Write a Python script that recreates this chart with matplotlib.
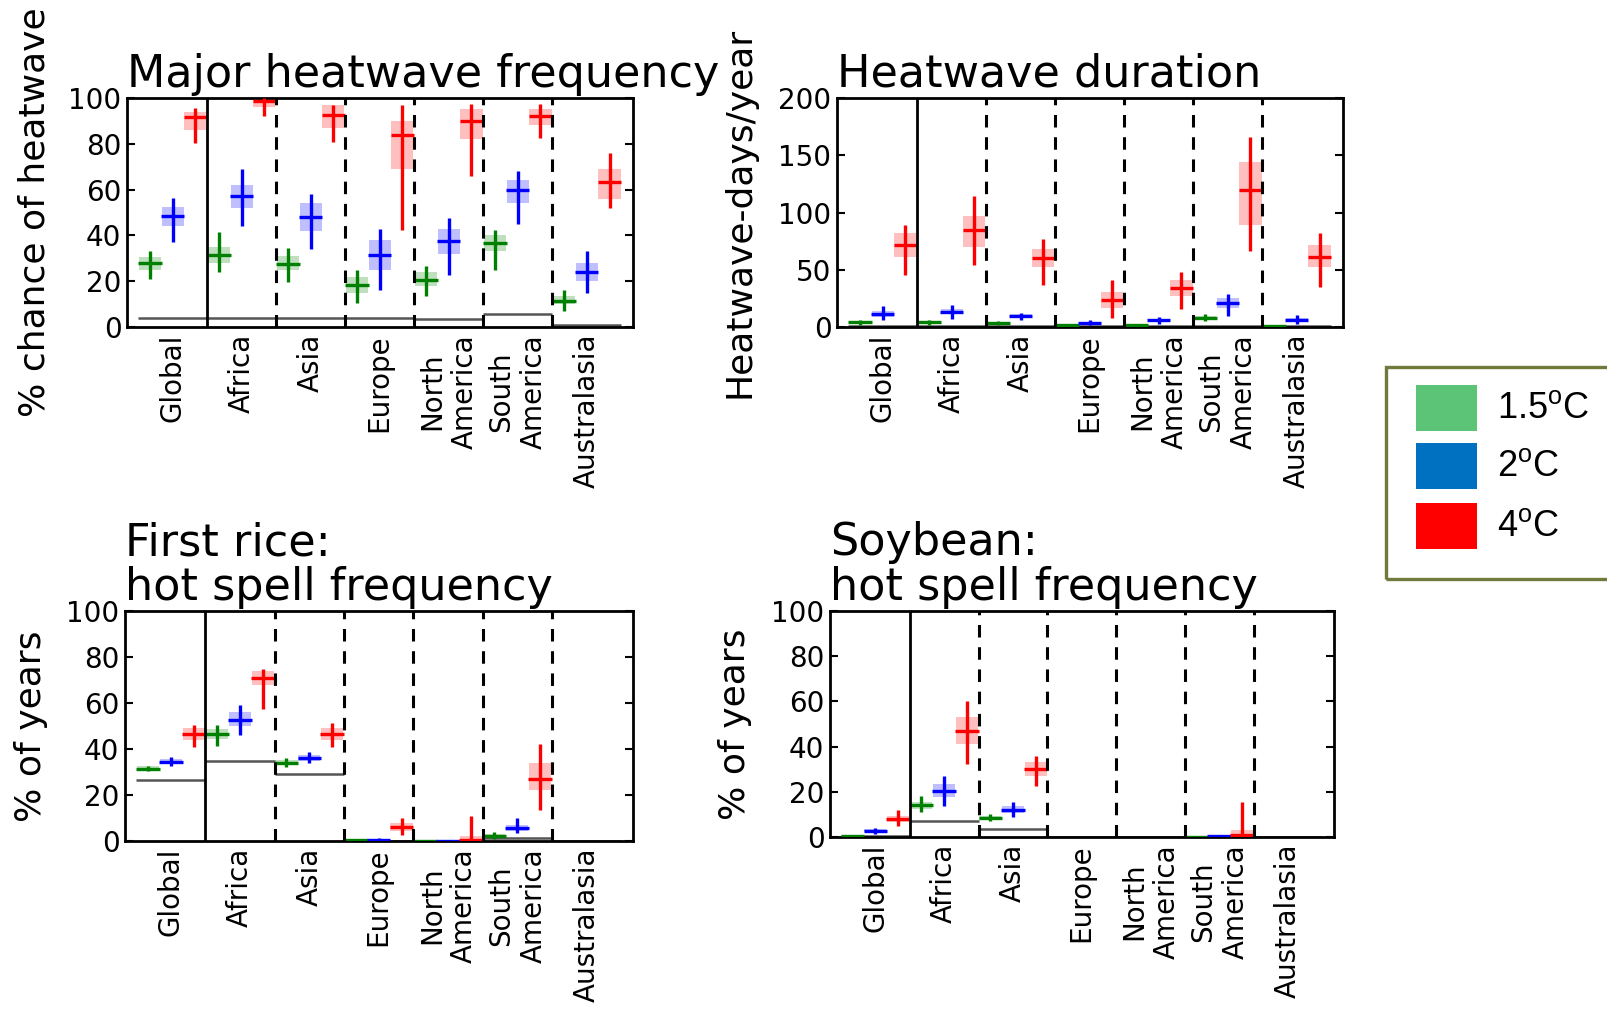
import numpy as np
import matplotlib.pyplot as plt
from matplotlib.patches import Rectangle

plt.rcParams['font.family'] = ['DejaVu Sans']
plt.rcParams['mathtext.fontset'] = 'custom'
plt.rcParams['mathtext.rm'] = 'Liberation Sans'
plt.rcParams['lines.scale_dashes'] = False

nan = np.nan
regions = ['Global', 'Africa', 'Asia', 'Europe', 'North\nAmerica', 'South\nAmerica', 'Australasia']
scenarios = ['1.5$^{\\rm o}$C', '2$^{\\rm o}$C', '4$^{\\rm o}$C']
mark_colors = ['g', 'b', 'r']
legend_colors = ['#5bc477', '#0070c0', '#ff0000']

# major heatwave frequency (% chance of heatwave), rows = 1.5C, 2C, 4C
freq_med = [[28, 31.5, 27.5, 18.5, 20.5, 36.5, 11.5],
            [48.5, 57, 48, 31.5, 37.5, 60, 24],
            [91.5, 98.5, 92.5, 84, 90, 92, 63.5]]
freq_lo = [[21, 24, 19.5, 10.5, 13.5, 25, 7],
           [37, 44, 34, 16, 22.5, 45, 15],
           [80.5, 92, 81, 42.5, 66, 82.5, 52]]
freq_hi = [[33, 41.5, 34.5, 25, 26.5, 42.5, 16],
           [56.5, 69, 58, 43, 47.5, 68, 33],
           [95.5, 100, 97, 97, 97.5, 97.5, 76]]
freq_q1 = [[25, 28, 25, 15, 18, 33, 10],
           [44, 52, 42, 25, 32, 54, 20],
           [86, 96, 87, 69, 82, 88, 56]]
freq_q3 = [[30.5, 35, 31, 22, 24, 40, 13.5],
           [52.5, 62, 54, 38, 43, 64, 28],
           [94, 100, 97, 90, 95, 95, 69]]
freq_base = [4, 4, 4, 4, 3.5, 5.5, 1]

# heatwave duration (days/year)
dur_med = [[4, 4, 3.5, 1.5, 1.5, 8, 1],
           [11.5, 13.5, 9.5, 3.5, 6, 21, 6],
           [72, 85, 60, 24, 34, 120, 61]]
dur_lo = [[2, 2, 2, 0.5, 0.5, 5, 0.3],
          [6, 7, 6, 1.5, 3, 10, 3],
          [45, 54, 37, 7.5, 16, 66, 35]]
dur_hi = [[6, 6, 5, 3, 3, 11, 2],
          [18, 19, 12.5, 6, 9, 29, 10.5],
          [89, 114, 77, 41, 48, 166, 82]]
dur_q1 = [[3, 3, 2.5, 1, 1, 6.5, 0.5],
          [9, 11, 8, 2.5, 5, 17, 4.5],
          [61, 70, 52, 17, 27, 89, 52]]
dur_q3 = [[5, 5, 4.5, 2, 2, 9.5, 1.5],
          [14, 16, 11, 4.5, 7, 25, 7.5],
          [82, 97, 68, 31, 41, 144, 72]]
dur_base = [1, 1, 1, 0.5, 0.5, 1, 0.5]

# first rice: hot spell frequency (% of years)
rice_med = [[31.5, 46.5, 34, 0.3, 0, 2.2, nan],
            [34.5, 52.5, 36, 0.5, 0, 5.5, nan],
            [46.5, 71, 46.5, 6, 0.5, 27, nan]]
rice_lo = [[30.5, 41.5, 32, 0, 0, 1, nan],
           [32.5, 46, 34, 0, 0, 3.3, nan],
           [41, 57.5, 41, 2.5, 0, 13.5, nan]]
rice_hi = [[32.5, 50.5, 36, 0.8, 0, 4, nan],
           [36.5, 59, 38.5, 1.2, 0, 10, nan],
           [50.5, 75, 51.5, 10, 11, 42, nan]]
rice_q1 = [[31, 44.5, 33, 0, 0, 1.5, nan],
           [33.5, 50, 35, 0.2, 0, 4.5, nan],
           [44, 68, 44, 4.5, 0, 22, nan]]
rice_q3 = [[32.5, 48.5, 35, 0.6, 0, 3, nan],
           [35.5, 56, 37.5, 0.9, 0, 7, nan],
           [49, 74, 49, 8, 2, 34, nan]]
rice_base = [26.5, 35, 29, 0, 0, 1.5, 0]

# soybean: hot spell frequency (% of years)
soy_med = [[0.5, 14, 8.5, nan, nan, 0, nan],
           [2.8, 20.5, 12, nan, nan, 0.3, nan],
           [8, 47, 30, nan, nan, 1, nan]]
soy_lo = [[0, 11, 7, nan, nan, 0, nan],
          [1.5, 13.5, 9, nan, nan, 0, nan],
          [5, 32.5, 22.5, nan, nan, 0, nan]]
soy_hi = [[1, 18, 10, nan, nan, 0.3, nan],
          [4, 27, 15.5, nan, nan, 1, nan],
          [12, 60, 36, nan, nan, 15.5, nan]]
soy_q1 = [[0, 12.5, 7.5, nan, nan, 0, nan],
          [2, 17.5, 10.5, nan, nan, 0, nan],
          [6.5, 41, 27, nan, nan, 0, nan]]
soy_q3 = [[1, 15.5, 9.5, nan, nan, 0.3, nan],
          [3.5, 23.5, 13.5, nan, nan, 1, nan],
          [9.5, 53, 33, nan, nan, 3, nan]]
soy_base = [0.5, 7, 3.5, 0, 0, 0, 0]

W, H = 1607, 1014
fig = plt.figure(figsize=(W / 100, H / 100), dpi=100)


def px_rect(x0, y0, x1, y1):
    return [x0 / W, 1 - y1 / H, (x1 - x0) / W, (y1 - y0) / H]


def panel(rect, med, lo, hi, q1, q3, base, ymax, step, title, ylabel, lab_x):
    ax = fig.add_axes(rect)
    offs = [0.17, 0.5, 0.83]
    idx = np.arange(len(regions))
    for s in range(3):
        x = idx + offs[s]
        m = np.array(med[s], float)
        b0 = np.array(q1[s], float)
        b1 = np.array(q3[s], float)
        ok = ~np.isnan(m)
        ax.bar(x[ok], (b1 - b0)[ok] + 1e-9, bottom=b0[ok], width=0.32,
               color=mark_colors[s], alpha=0.25, lw=0, zorder=2)
        ax.vlines(x[ok], np.array(lo[s], float)[ok], np.array(hi[s], float)[ok],
                  color=mark_colors[s], lw=2.4, zorder=3)
        ax.hlines(m[ok], x[ok] - 0.17, x[ok] + 0.17, color=mark_colors[s],
                  lw=2.4, zorder=3)
    ax.hlines(base, idx, idx + 1, color='#555555', lw=1.8, zorder=1)
    ax.axvline(1, color='k', lw=2.0, zorder=4)
    for b in range(2, 7):
        ax.axvline(b, color='k', lw=2.2, ls=(0, (9, 7)), zorder=4)
    ax.set_xlim(-0.16, 7.17)
    ax.set_ylim(0, ymax)
    ax.set_yticks(np.arange(0, ymax + 1, step))
    ax.set_xticks(idx + 0.5)
    ax.set_xticklabels(regions, rotation=90, fontsize=20)
    ax.tick_params(axis='x', length=0, pad=5)
    ax.tick_params(axis='y', direction='in', length=6, width=1.5,
                   labelsize=20, pad=4, right=True)
    for sp in ax.spines.values():
        sp.set_linewidth(2.0)
    ax.set_title(title, loc='left', fontsize=32, pad=8, linespacing=1.05)
    ax.set_ylabel(ylabel, fontsize=26, va='center')
    ax.yaxis.set_label_coords(lab_x, 0.5)
    return ax


panel(px_rect(127, 98, 633, 327), freq_med, freq_lo, freq_hi, freq_q1, freq_q3,
      freq_base, 100, 20, 'Major heatwave frequency', '% chance of heatwave', -0.182)
panel(px_rect(837, 98, 1343, 327), dur_med, dur_lo, dur_hi, dur_q1, dur_q3,
      dur_base, 200, 50, 'Heatwave duration', 'Heatwave-days/year', -0.192)
panel(px_rect(125, 611, 633, 841), rice_med, rice_lo, rice_hi, rice_q1, rice_q3,
      rice_base, 100, 20, 'First rice:\nhot spell frequency', '% of years', -0.185)
panel(px_rect(830, 611, 1334, 837), soy_med, soy_lo, soy_hi, soy_q1, soy_q3,
      soy_base, 100, 20, 'Soybean:\nhot spell frequency', '% of years', -0.188)

# legend box (runs off the right edge)
fig.add_artist(Rectangle((1386 / W, 1 - 579 / H), (1630 - 1386) / W, 212 / H,
                         transform=fig.transFigure, fill=False,
                         edgecolor='#6e7b3c', lw=2.4, clip_on=False))
tops = [385, 443, 503]
for s in range(3):
    fig.add_artist(Rectangle((1416 / W, 1 - (tops[s] + 46) / H), 61 / W, 46 / H,
                             transform=fig.transFigure, color=legend_colors[s], lw=0))
    fig.text(1497 / W, 1 - (tops[s] + 24) / H, scenarios[s], fontsize=26,
             family=['Liberation Sans Narrow', 'Liberation Sans', 'DejaVu Sans'],
             va='center', ha='left')

fig.savefig('out.png', dpi=100)
